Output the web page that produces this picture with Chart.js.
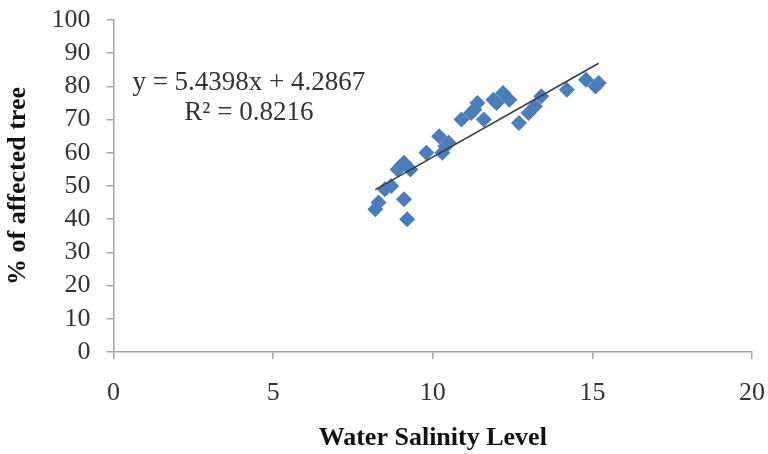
<!DOCTYPE html>
<html>
<head>
<meta charset="utf-8">
<script src="https://cdn.jsdelivr.net/npm/chart.js@4/dist/chart.umd.min.js"></script>
<style>
  html, body { margin: 0; padding: 0; background: #fff; }
  #wrap { width: 768px; height: 454px; position: relative; }
</style>
</head>
<body>
<div id="wrap"><canvas id="myChart"></canvas></div>
<script>
// salinity readings and share of affected trees per site
const salinity = [8.2, 8.3, 8.5, 8.7, 8.9, 9.0, 9.1, 9.1, 9.2, 9.3, 9.8, 10.2, 10.3, 10.4, 10.5, 10.9, 11.2, 11.3, 11.4, 11.6, 11.9, 12.0, 12.2, 12.4, 12.7, 13.0, 13.2, 13.4, 14.2, 14.8, 15.1, 15.2];
const affected = [43, 45, 49, 50, 55, 56, 57, 46, 40, 55, 60, 65, 60, 62, 63, 70, 72, 73, 75, 70, 76, 75, 78, 76, 69, 72, 74, 77, 79, 82, 80, 81];

// linear trend line from the fitted equation
const slope = 5.4398;
const intercept = 4.2867;
const rSquared = 0.8216;
const trendRange = [8.2, 15.2];

const xTicks = [0, 5, 10, 15, 20];
const yTicks = [0, 10, 20, 30, 40, 50, 60, 70, 80, 90, 100];

const points = salinity.map((s, i) => ({ x: s, y: affected[i] }));
const trend = trendRange.map(x => ({ x: x, y: slope * x + intercept }));

const serif = "'Liberation Serif', 'Times New Roman', serif";
const axisGray = '#a6a6a6';

// writes the regression equation and R² in the upper left of the plot
const equationLabel = {
    id: 'equationLabel',
    afterDatasetsDraw(chart) {
        const ctx = chart.ctx;
        const xs = chart.scales.x, ys = chart.scales.y;
        const cx = xs.getPixelForValue(4.24);
        ctx.save();
        ctx.fillStyle = '#333';
        ctx.font = '27px ' + serif;
        ctx.textAlign = 'center';
        ctx.textBaseline = 'middle';
        ctx.fillText('y = ' + slope + 'x + ' + intercept, cx, ys.getPixelForValue(81));
        ctx.fillText('R² = ' + rSquared, cx, ys.getPixelForValue(72));
        ctx.restore();
    }
};

new Chart('myChart', {
    type: 'scatter',
    data: {
        datasets: [
            {
                type: 'line',
                data: trend,
                borderColor: '#3c3c3c',
                borderWidth: 1.6,
                pointRadius: 0,
                fill: false,
                order: 0
            },
            {
                data: points,
                pointStyle: 'rectRot',
                pointRadius: 8,
                backgroundColor: '#4a7ebb',
                borderColor: '#4a7ebb',
                borderWidth: 0,
                order: 1
            }
        ]
    },
    options: {
        responsive: true,
        maintainAspectRatio: false,
        animation: false,
        layout: { padding: { top: 20, right: 16, left: 0, bottom: 0 } },
        plugins: {
            legend: { display: false },
            tooltip: { enabled: false }
        },
        scales: {
            x: {
                type: 'linear',
                min: 0,
                max: 20,
                afterBuildTicks: (scale) => { scale.ticks = xTicks.map(v => ({ value: v })); },
                afterFit: (scale) => {
                    scale.height = 102;
                    scale.paddingLeft = 0;
                    scale.paddingRight = 0;
                },
                ticks: {
                    color: '#333',
                    font: { family: serif, size: 26 },
                    padding: 19,
                    maxRotation: 0,
                    autoSkip: false
                },
                grid: { drawOnChartArea: false, drawTicks: true, tickLength: 7, color: axisGray, lineWidth: 1.5 },
                border: { display: true, color: axisGray, width: 1.5 },
                title: {
                    display: true,
                    text: 'Water Salinity Level',
                    color: '#111',
                    font: { family: serif, size: 26, weight: 'bold' },
                    padding: { top: 0, bottom: 0 }
                }
            },
            y: {
                type: 'linear',
                min: 0,
                max: 100,
                afterBuildTicks: (scale) => { scale.ticks = yTicks.map(v => ({ value: v })); },
                afterFit: (scale) => {
                    scale.width = 113.5;
                    scale.paddingTop = 0;
                    scale.paddingBottom = 0;
                },
                ticks: {
                    color: '#333',
                    font: { family: serif, size: 26 },
                    padding: 16,
                    autoSkip: false
                },
                grid: { drawOnChartArea: false, drawTicks: true, tickLength: 7, color: axisGray, lineWidth: 1.5 },
                border: { display: true, color: axisGray, width: 1.5 },
                title: {
                    display: true,
                    text: '% of affected tree',
                    color: '#111',
                    font: { family: serif, size: 26, weight: 'bold' },
                    padding: { top: 3, bottom: 0 }
                }
            }
        }
    },
    plugins: [equationLabel]
});
</script>
</body>
</html>
